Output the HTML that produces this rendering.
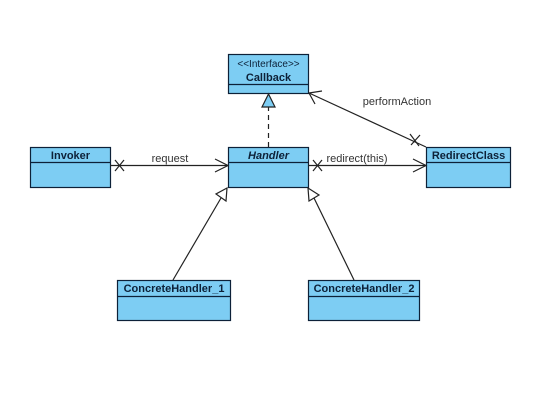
<!DOCTYPE html>
<html><head><style>
html,body{margin:0;padding:0;background:#fff;}
svg{display:block;font-family:"Liberation Sans",Arial,sans-serif;}
</style></head><body>
<svg width="555" height="400" viewBox="0 0 555 400" xmlns="http://www.w3.org/2000/svg">
<rect width="555" height="400" fill="#fff"/>
<g fill="#7dcdf3" stroke="#0d2138" stroke-width="1.2">
<rect x="228.5" y="54.5" width="80" height="39"/>
<line x1="228.5" y1="84.5" x2="308.5" y2="84.5"/>
<rect x="228.5" y="147.5" width="80" height="40"/>
<line x1="228.5" y1="162.5" x2="308.5" y2="162.5"/>
<rect x="30.5" y="147.5" width="80" height="40"/>
<line x1="30.5" y1="162.5" x2="110.5" y2="162.5"/>
<rect x="426.5" y="147.5" width="84" height="40"/>
<line x1="426.5" y1="162.5" x2="510.5" y2="162.5"/>
<rect x="117.5" y="280.5" width="113" height="40"/>
<line x1="117.5" y1="296.5" x2="230.5" y2="296.5"/>
<rect x="308.5" y="280.5" width="111" height="40"/>
<line x1="308.5" y1="296.5" x2="419.5" y2="296.5"/>
</g>
<g fill="#0d2138" font-size="11" text-anchor="middle" font-weight="bold">
<text x="268.5" y="67" font-weight="normal" font-size="10">&lt;&lt;Interface&gt;&gt;</text>
<text x="268.5" y="81">Callback</text>
<text x="268.5" y="159" font-style="italic">Handler</text>
<text x="70.5" y="159">Invoker</text>
<text x="468.5" y="159">RedirectClass</text>
<text x="174" y="292">ConcreteHandler_1</text>
<text x="364" y="292">ConcreteHandler_2</text>
</g>
<g fill="#333" font-size="11" text-anchor="middle">
<text x="170" y="162">request</text>
<text x="357" y="162">redirect(this)</text>
<text x="397" y="105">performAction</text>
</g>
<g stroke="#222" stroke-width="1.2" fill="none">
<line x1="110" y1="165.5" x2="228" y2="165.5"/>
<polyline points="215,159 228,165.5 215,172"/>
<line x1="115" y1="160" x2="124" y2="171"/><line x1="124" y1="160" x2="115" y2="171"/>
<line x1="308" y1="165.5" x2="426" y2="165.5"/>
<polyline points="413,159 426,165.5 413,172"/>
<line x1="313" y1="160" x2="322" y2="171"/><line x1="322" y1="160" x2="313" y2="171"/>
<line x1="426" y1="147" x2="309" y2="93"/>
<polyline points="315,104 309,93 322,91"/>
<line x1="410" y1="134" x2="419" y2="146"/><line x1="411" y1="145" x2="420" y2="135"/>
<line x1="268.5" y1="147" x2="268.5" y2="107" stroke-dasharray="5,4"/>
<line x1="173" y1="280" x2="221" y2="198"/>
<line x1="354" y1="280" x2="314" y2="198"/>
</g>
<g stroke="#222" stroke-width="1.2">
<polygon points="268.5,94 262,107 275,107" fill="#7dcdf3"/>
<polygon points="227,188 216,194 226,201" fill="#fff"/>
<polygon points="308,188 309,201 319,195" fill="#fff"/>
</g>
</svg>
</body></html>
